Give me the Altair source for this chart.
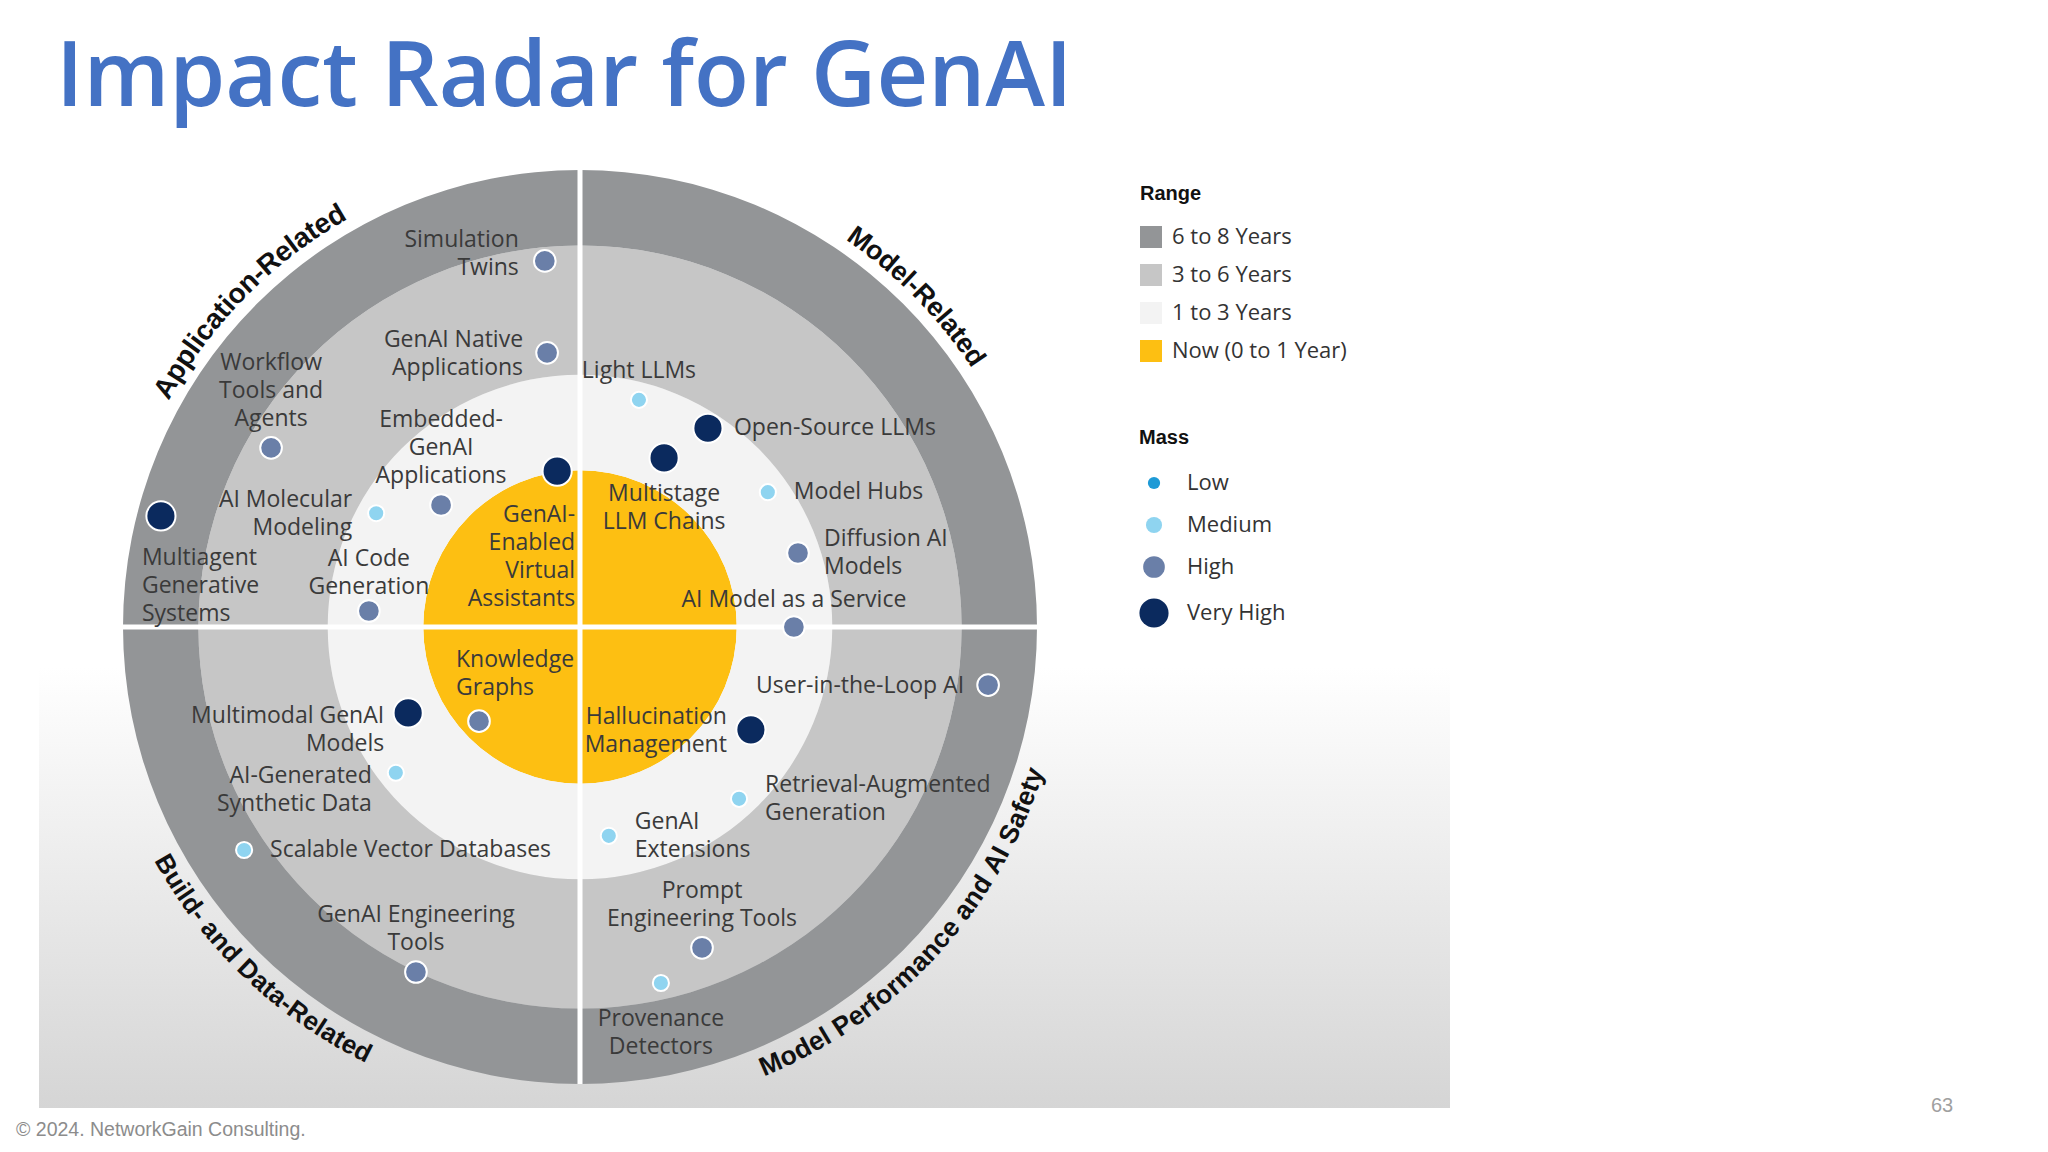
import math
import altair as alt
import pandas as pd

# ---------------- data ----------------
tech_labels = [
    "Simulation\nTwins", "GenAI Native\nApplications", "Workflow\nTools and\nAgents",
    "GenAI-\nEnabled\nVirtual\nAssistants", "Embedded-\nGenAI\nApplications", "AI Molecular\nModeling",
    "Multiagent\nGenerative\nSystems", "AI Code\nGeneration",
    "Light LLMs", "Open-Source LLMs", "Multistage\nLLM Chains", "Model Hubs",
    "Diffusion AI\nModels", "AI Model as a Service",
    "Knowledge\nGraphs", "Multimodal GenAI\nModels", "AI-Generated\nSynthetic Data",
    "Scalable Vector Databases", "GenAI Engineering\nTools",
    "User-in-the-Loop AI", "Hallucination\nManagement", "Retrieval-Augmented\nGeneration",
    "GenAI\nExtensions", "Prompt\nEngineering Tools", "Provenance\nDetectors",
]
tech_mass = [
    "High", "High", "High", "Very High", "High", "Medium", "Very High", "High",
    "Medium", "Very High", "Very High", "Medium", "High", "High",
    "High", "Very High", "Medium", "Medium", "High",
    "High", "Very High", "Medium", "Medium", "High", "Medium",
]
# position in radar units (outer ring radius = 1, centre = 0,0)
tech_x = [-0.077, -0.072, -0.676, -0.050, -0.304, -0.446, -0.917, -0.462,
          0.129, 0.280, 0.184, 0.411, 0.477, 0.468,
          -0.221, -0.376, -0.403, -0.735, -0.359,
          0.893, 0.374, 0.348, 0.063, 0.267, 0.177]
tech_y = [0.801, 0.600, 0.392, 0.341, 0.267, 0.249, 0.243, 0.035,
          0.497, 0.435, 0.370, 0.295, 0.162, 0.000,
          -0.206, -0.188, -0.319, -0.488, -0.755,
          -0.127, -0.225, -0.376, -0.457, -0.702, -0.779]
label_side = ["LB", "L", "A", "BR", "A", "L", "BL", "AC",
              "A", "R", "B", "R", "R", "AS",
              "AL", "LT", "LT", "R", "A",
              "L", "L", "R", "R", "A", "B"]

range_labels = ["Now (0 to 1 Year)", "1 to 3 Years", "3 to 6 Years", "6 to 8 Years"]
range_inner = [0.0, 0.343, 0.552, 0.835]
range_outer = [0.343, 0.552, 0.835, 1.0]
range_colors = ["#FDBF12", "#F3F3F3", "#C6C6C6", "#939597"]

mass_levels = ["Low", "Medium", "High", "Very High"]
mass_colors = ["#1E9AD6", "#8FD4F0", "#6A7FA8", "#0B2A5E"]
mass_sizes = [150, 260, 470, 850]

sector_names = ["Application-Related", "Model-Related",
                "Model Performance and AI Safety", "Build- and Data-Related"]
sector_center_deg = [314.6, 45.5, 132.5, 223.7]
sector_upper = [True, True, False, False]

# ---------------- layout ----------------
W, H = 2030, 1010
PAD_TOP = 130
R_PX = 457.0
CX, CY = 572.0, 627.0 - 8 - PAD_TOP
XMIN, XMAX = -CX / R_PX, (W - CX) / R_PX
YMAX, YMIN = CY / R_PX, -(H - CY) / R_PX
xs = alt.Scale(domain=[XMIN, XMAX], nice=False, zero=False)
ys = alt.Scale(domain=[YMIN, YMAX], nice=False, zero=False)
rs = alt.Scale(type="linear", domain=[0, 1], range=[0, R_PX], nice=False, zero=True)

X0 = alt.X(datum=0, type="quantitative", scale=xs, axis=None)
Y0 = alt.Y(datum=0, type="quantitative", scale=ys, axis=None)

LABEL_FONT = "Open Sans"
LFS = 23
LH = 28
SECTOR_FS = [28, 27, 26.5, 26]
S_R = 1.045

# ---------------- background ----------------
bg = alt.Chart(pd.DataFrame({"k": [0]})).mark_rect(
    fill=alt.Gradient(
        gradient="linear",
        stops=[alt.GradientStop(color="#FFFFFF", offset=0),
               alt.GradientStop(color="#FFFFFF", offset=0.1),
               alt.GradientStop(color="#D5D5D5", offset=1)],
        x1=0, x2=0, y1=0, y2=1),
).encode(x=alt.value(31), x2=alt.value(1442), y=alt.value(480), y2=alt.value(970))

# ---------------- rings ----------------
rings_df = pd.DataFrame({"range": range_labels, "r_in": range_inner, "r_out": range_outer})
rings = alt.Chart(rings_df).mark_arc(theta=0, theta2=2 * math.pi).encode(
    x=X0, y=Y0,
    radius=alt.Radius("r_out:Q", scale=rs),
    radius2=alt.Radius2("r_in:Q"),
    color=alt.Color(
        "range:N",
        scale=alt.Scale(domain=range_labels[::-1], range=range_colors[::-1]),
        legend=alt.Legend(
            title="Range", orient="none", legendX=1132, legendY=46, direction="vertical",
            titleFont="Liberation Sans", titleFontSize=20, titleFontWeight="bold",
            titleColor="#111111", titlePadding=22,
            labelFont=LABEL_FONT, labelFontSize=22, labelColor="#333333", labelOffset=10,
            labelLimit=400,
            symbolType="square", symbolSize=484, symbolStrokeWidth=0, rowPadding=16,
        ),
    ),
)

# ---------------- white cross ----------------
cross_df = pd.DataFrame({"x": [-1.0, 0.0], "x2": [1.0, 0.0], "y": [0.0, -1.0], "y2": [0.0, 1.0]})
cross = alt.Chart(cross_df).mark_rule(color="white", strokeWidth=5).encode(
    x=alt.X("x:Q", scale=xs, axis=None), x2="x2:Q",
    y=alt.Y("y:Q", scale=ys, axis=None), y2="y2:Q",
)

# ---------------- sector titles along the circle ----------------
HB = {" ": 278, "-": 333, "A": 722, "B": 722, "D": 722, "I": 278, "M": 833, "P": 667,
      "R": 722, "S": 667, "a": 556, "c": 556, "d": 611, "e": 556, "f": 333, "i": 278,
      "l": 278, "m": 889, "n": 611, "o": 611, "p": 611, "r": 389, "t": 333, "u": 611,
      "y": 556}
sector_layers = []
for name, cdeg, upper, fs in zip(sector_names, sector_center_deg, sector_upper, SECTOR_FS):
    widths = [HB.get(c, 600) / 1000 * fs for c in name]
    total = sum(widths)
    s = -total / 2
    rows = []
    for c, w in zip(name, widths):
        mid = s + w / 2
        d = math.degrees(mid / (S_R * R_PX))
        th = cdeg + d if upper else cdeg - d
        ang = th if upper else th - 180
        rows.append({"ch": c, "theta": math.radians(th % 360), "ang": ang % 360, "r": S_R})
        s += w
    sector_layers.append(
        alt.Chart(pd.DataFrame(rows)).mark_text(
            font="Liberation Sans", fontWeight="bold", fontSize=fs, color="#111111",
            align="center", baseline="middle",
        ).encode(
            x=X0, y=Y0,
            theta=alt.Theta("theta:Q", scale=None),
            radius=alt.Radius("r:Q", scale=rs),
            angle=alt.Angle("ang:Q", scale=None),
            text="ch:N",
        )
    )

# ---------------- technologies ----------------
tech_df = pd.DataFrame({"label": tech_labels, "mass": tech_mass, "x": tech_x,
                        "y": tech_y, "side": label_side})
tech_df["nlines"] = tech_df["label"].str.count("\n") + 1

mass_legend = alt.Legend(
    title="Mass", orient="none", legendX=1131, legendY=290, direction="vertical",
    titleFont="Liberation Sans", titleFontSize=20, titleFontWeight="bold",
    titleColor="#111111", titlePadding=24,
    labelFont=LABEL_FONT, labelFontSize=22, labelColor="#333333", labelOffset=18,
    labelLimit=400, symbolType="circle", symbolStrokeWidth=0, rowPadding=20,
)
points = alt.Chart(tech_df.drop(columns=["nlines"])).mark_circle(
    opacity=1, stroke="white", strokeWidth=2
).encode(
    x=alt.X("x:Q", scale=xs, axis=None),
    y=alt.Y("y:Q", scale=ys, axis=None),
    color=alt.Color("mass:N", sort=mass_levels,
                    scale=alt.Scale(type="ordinal", domain=mass_levels, range=mass_colors),
                    legend=mass_legend),
    size=alt.Size("mass:N", sort=mass_levels,
                  scale=alt.Scale(type="ordinal", domain=mass_levels, range=mass_sizes),
                  legend=mass_legend),
)

# placement style: align, baseline, dx, dy, and how much the block shifts per extra line
placements = {
    "L": dict(align="right", baseline="middle", dx=-24, dy=1, shift=-0.5),
    "LT": dict(align="right", baseline="top", dx=-24, dy=-8, shift=0.0),
    "LB": dict(align="right", baseline="bottom", dx=-26, dy=19, shift=-1.0),
    "R": dict(align="left", baseline="middle", dx=26, dy=0, shift=-0.5),
    "A": dict(align="center", baseline="bottom", dx=0, dy=-17, shift=-1.0),
    "AC": dict(align="center", baseline="bottom", dx=0, dy=-12, shift=-1.0),
    "AS": dict(align="center", baseline="bottom", dx=0, dy=-15, shift=-1.0),
    "B": dict(align="center", baseline="top", dx=0, dy=25, shift=0.0),
    "AL": dict(align="left", baseline="bottom", dx=-23, dy=-21, shift=-1.0),
    "BL": dict(align="left", baseline="top", dx=-19, dy=31, shift=0.0),
    "BR": dict(align="right", baseline="top", dx=18, dy=33, shift=0.0),
}
label_layers = []
for code, p in placements.items():
    sub_code = tech_df[tech_df["side"] == code]
    for n in sorted(sub_code["nlines"].unique()):
        sub = sub_code[sub_code["nlines"] == n].drop(columns=["nlines"])
        label_layers.append(
            alt.Chart(sub).mark_text(
                font=LABEL_FONT, fontSize=LFS, color="#3A3A3A", lineHeight=LH,
                lineBreak="\n", align=p["align"], baseline=p["baseline"],
                dx=p["dx"], dy=p["dy"] + p["shift"] * (int(n) - 1) * LH,
            ).encode(
                x=alt.X("x:Q", scale=xs, axis=None),
                y=alt.Y("y:Q", scale=ys, axis=None),
                text="label:N",
            )
        )

# ---------------- footer ----------------
one = pd.DataFrame({"k": [0]})
footer = alt.Chart(one).mark_text(
    align="left", baseline="middle", font="Liberation Sans", fontSize=19.5, color="#8C8C8C"
).encode(x=alt.value(8), y=alt.value(992), text=alt.value("© 2024. NetworkGain Consulting."))
page_no = alt.Chart(one).mark_text(
    align="center", baseline="middle", font="Liberation Sans", fontSize=20, color="#A0A0A0"
).encode(x=alt.value(1934), y=alt.value(968), text=alt.value("63"))

chart = alt.layer(
    bg, rings, cross, *sector_layers, points, *label_layers, footer, page_no
).resolve_scale(
    color="independent", size="independent"
).properties(
    width=W, height=H,
    padding={"left": 0, "right": 0, "top": PAD_TOP, "bottom": 0},
    autosize=alt.AutoSizeParams(type="none"),
    title=alt.TitleParams(
        text="Impact Radar for GenAI", anchor="start", frame="group",
        font="Open Sans", fontSize=90, fontWeight=600, color="#4472C4",
        offset=13, dx=48,
    ),
).configure_view(stroke=None)

chart.save("out.html", embed_options={"renderer": "svg", "actions": False})
